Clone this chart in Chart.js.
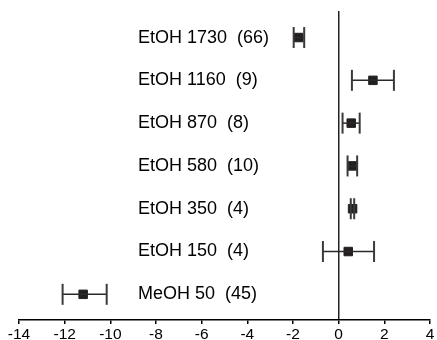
<!DOCTYPE html>
<html>
<head>
<meta charset="utf-8">
<script src="https://cdn.jsdelivr.net/npm/chart.js@4"></script>
<style>
  body { margin: 0; background: #fff; }
  #wrap { width: 437px; height: 340px; }
</style>
</head>
<body>
<div id="wrap"><canvas id="myChart"></canvas></div>
<script>
// rows, top to bottom
const labels = [
  'EtOH 1730  (66)',
  'EtOH 1160  (9)',
  'EtOH 870  (8)',
  'EtOH 580  (10)',
  'EtOH 350  (4)',
  'EtOH 150  (4)',
  'MeOH 50  (45)',
]
const means = [-1.75, 1.5, 0.55, 0.6, 0.61, 0.42, -11.19]
const lows = [-1.97, 0.58, 0.17, 0.39, 0.53, -0.69, -12.09]
const highs = [-1.51, 2.42, 0.92, 0.81, 0.68, 1.55, -10.16]
const xTicks = [-14, -12, -10, -8, -6, -4, -2, 0, 2, 4]

const n = labels.length
const rowY = (i) => n - 1 - i

const errorSets = labels.map((lab, i) => ({
  type: 'line',
  data: [
    { x: lows[i], y: rowY(i) },
    { x: highs[i], y: rowY(i) },
  ],
  borderColor: '#2a2a2a',
  borderWidth: 1.5,
  pointStyle: 'line',
  pointRotation: 90,
  pointRadius: 10.5,
  pointBorderWidth: 2,
  pointBorderColor: '#3a3a3a',
  fill: false,
}))

// no extra padding from tick labels, layout.padding decides the chart area
function noPad(scale) {
  scale.paddingTop = 0
  scale.paddingBottom = 0
  scale.paddingLeft = 0
  scale.paddingRight = 0
}

const ctx = document.getElementById('myChart').getContext('2d')
const chart = new Chart(ctx, {
  type: 'scatter',
  data: {
    datasets: [
      ...errorSets,
      {
        type: 'scatter',
        data: means.map((m, i) => ({ x: m, y: rowY(i) })),
        pointStyle: 'rect',
        pointRadius: 6,
        backgroundColor: '#231f20',
        borderColor: '#231f20',
        borderWidth: 1,
      },
    ],
  },
  options: {
    responsive: true,
    maintainAspectRatio: false,
    animation: false,
    layout: { autoPadding: false, padding: { left: 19, right: 7, top: 11, bottom: 0 } },
    plugins: { legend: { display: false }, tooltip: { enabled: false } },
    scales: {
      x: {
        type: 'linear',
        min: -14,
        max: 4,
        afterBuildTicks: (scale) => {
          scale.ticks = xTicks.map((v) => ({ value: v }))
        },
        afterFit: (scale) => {
          scale.height = 20
          noPad(scale)
        },
        grid: {
          color: (c) => (c.tick && c.tick.value === 0 ? '#222' : 'rgba(0,0,0,0)'),
          lineWidth: 1.5,
          tickColor: '#000',
          tickLength: 4,
        },
        border: { color: '#000', width: 1.5 },
        ticks: {
          color: '#000',
          padding: 1,
          maxRotation: 0,
          font: { family: '"Liberation Sans", Arial, sans-serif', size: 15.5 },
        },
      },
      y: {
        type: 'linear',
        min: -0.6,
        max: 6.62,
        afterBuildTicks: (scale) => {
          scale.ticks = labels.map((_, i) => ({ value: i }))
        },
        afterFit: (scale) => {
          scale.width = 0
          noPad(scale)
        },
        grid: { display: false },
        border: { display: false },
        ticks: {
          mirror: true,
          padding: 119,
          color: '#000',
          font: { family: '"Liberation Sans", Arial, sans-serif', size: 18 },
          callback: (v) => labels[n - 1 - v],
        },
      },
    },
  },
})
</script>
</body>
</html>
